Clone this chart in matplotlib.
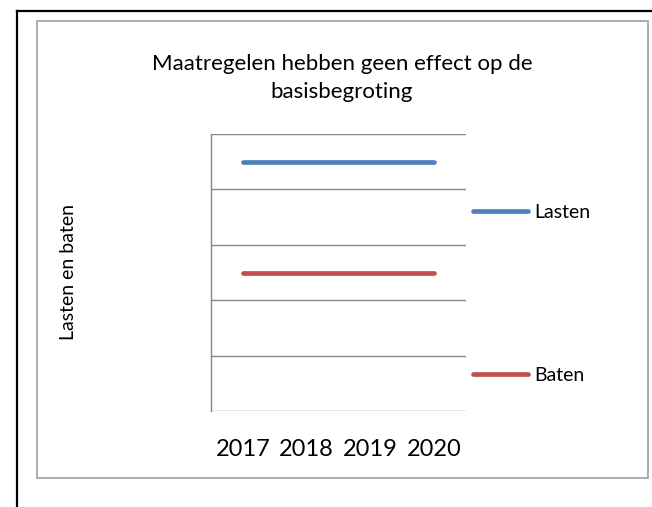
import matplotlib.pyplot as plt
from matplotlib.patches import Rectangle
from matplotlib.lines import Line2D

plt.rcParams['font.family'] = ['Lato', 'DejaVu Sans']

years = ['2017', '2018', '2019', '2020']
lasten = [4.5, 4.5, 4.5, 4.5]
baten = [2.5, 2.5, 2.5, 2.5]

title_lines = ['Maatregelen hebben geen effect op de', 'basisbegroting']
ylabel = 'Lasten en baten'

W, H = 652, 507
fig = plt.figure(figsize=(W / 100, H / 100), dpi=100)

# outer black frame (left + top only visible) and inner grey chart box
fig.add_artist(Line2D([17 / W, 17 / W], [0, 1 - 11 / H], color='black', lw=1.6))
fig.add_artist(Line2D([17 / W, 1], [1 - 11 / H, 1 - 11 / H], color='black', lw=1.6))
fig.add_artist(Rectangle((37 / W, 1 - 478 / H), (648 - 37) / W, (478 - 21) / H,
                         fill=False, edgecolor='#a6a6a6', lw=1.3))

ax = fig.add_axes([211 / W, 1 - 411 / H, (466 - 211) / W, (411 - 134) / H])
x = range(len(years))
ax.plot(x, lasten, color='#4f81bd', lw=3.4, solid_capstyle='round', label='Lasten')
ax.plot(x, baten, color='#c0504d', lw=3.4, solid_capstyle='round', label='Baten')

ax.set_xlim(-0.5, len(years) - 0.5)
ax.set_ylim(0, 5)
ax.set_yticks(range(0, 6))
ax.set_yticklabels([])
ax.set_xticks(list(x))
ax.set_xticklabels(years, fontsize=17)
ax.tick_params(axis='both', length=0)
ax.tick_params(axis='x', pad=20)
ax.grid(axis='y', color='#868686', lw=1)
for s in ['top', 'right', 'bottom']:
    ax.spines[s].set_visible(False)
ax.spines['left'].set_color('#868686')
ax.spines['left'].set_linewidth(1)

fig.text(342 / W, 1 - 70 / H, title_lines[0], ha='center', va='baseline', fontsize=16)
fig.text(342 / W, 1 - 98 / H, title_lines[1], ha='center', va='baseline', fontsize=16)
fig.text(69 / W, 1 - 272 / H, ylabel, rotation=90, ha='center', va='center', fontsize=14)

ax.legend(loc='upper left', bbox_to_anchor=(473 / W, 1 - 204 / H),
          bbox_transform=fig.transFigure, frameon=False, fontsize=14,
          handlelength=2.85, handletextpad=0.3, labelspacing=7.5,
          borderaxespad=0, borderpad=0)

fig.savefig('out.png', dpi=100)
